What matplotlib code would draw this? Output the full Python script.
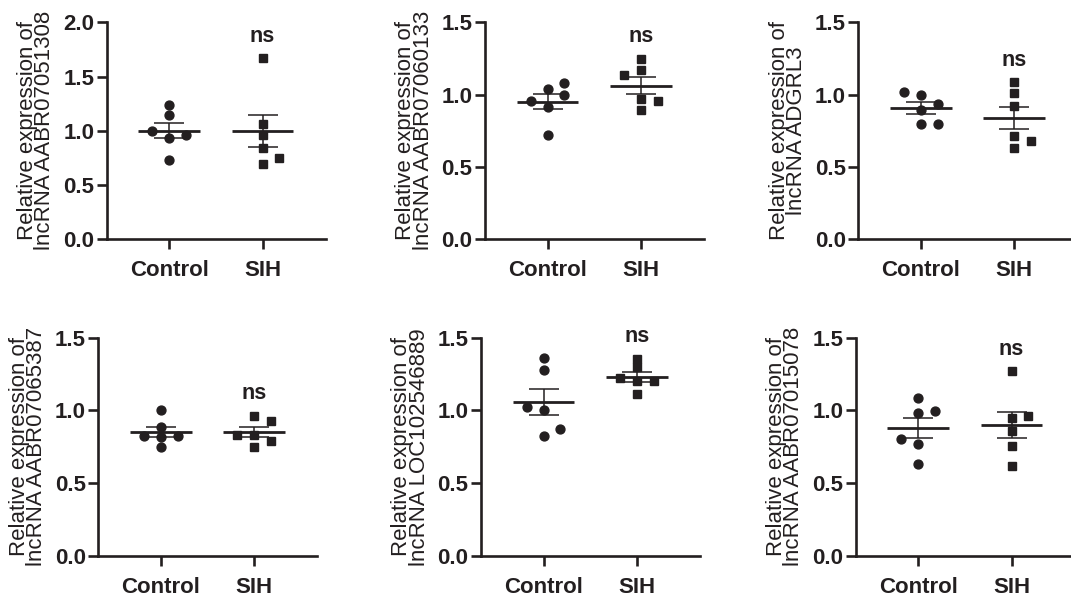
import numpy as np
import matplotlib
matplotlib.use('Agg')
import matplotlib.pyplot as plt
from matplotlib.ticker import FormatStrFormatter

# Values (n = 6 per group)
groups = ['Control', 'SIH']
genes = ['lncRNA AABR07051308', 'lncRNA AABR07060133', 'lncRNA ADGRL3',
         'lncRNA AABR07065387', 'lncRNA LOC102546889', 'lncRNA AABR07015078']
y_tops = [2.0, 1.5, 1.5, 1.5, 1.5, 1.5]

control_051308 = [0.937, 0.964, 0.998, 1.235, 1.145, 0.731]
sih_051308 = [1.668, 1.066, 0.959, 0.844, 0.691, 0.752]
control_060133 = [1.041, 0.912, 0.720, 1.083, 0.958, 0.998]
sih_060133 = [1.248, 1.170, 0.970, 0.895, 0.954, 1.135]
control_adgrl3 = [0.895, 0.935, 0.999, 1.018, 0.796, 0.796]
sih_adgrl3 = [1.085, 1.008, 0.923, 0.713, 0.679, 0.630]
control_065387 = [1.002, 0.884, 0.815, 0.749, 0.826, 0.826]
sih_065387 = [0.964, 0.929, 0.833, 0.829, 0.788, 0.747]
control_loc = [1.358, 1.276, 1.000, 0.824, 0.870, 1.025]
sih_loc = [1.355, 1.295, 1.198, 1.113, 1.198, 1.221]
control_015078 = [1.085, 0.981, 0.634, 0.768, 0.995, 0.802]
sih_015078 = [1.268, 0.947, 0.861, 0.754, 0.616, 0.958]
annot = ['ns'] * 6

panels = [(control_051308, sih_051308), (control_060133, sih_060133),
          (control_adgrl3, sih_adgrl3), (control_065387, sih_065387),
          (control_loc, sih_loc), (control_015078, sih_015078)]

INK = '#231f20'
W, H = 1071, 596
# axes boxes in pixels: left x, top y (figure measured from top)
lefts = [106.7, 485, 858.3, 98.3, 481, 855.7]
tops = [22.3, 22.3, 22.3, 337.5, 337.5, 337.5]
bottoms = [239.3, 239.3, 239.3, 556, 556, 556]
AX_W = 219

fig = plt.figure(figsize=(W / 100, H / 100), dpi=100)


def swarm_offsets(ax, values, min_px=7.5, step=0.18):
    # simple dot-plot spreading: centre if free, else alternate sides
    ypx = ax.transData.transform(np.column_stack([np.zeros(len(values)), values]))[:, 1]
    placed = []
    slots = []
    moved = 0
    for y in ypx:
        def free(s):
            return all(abs(y - yy) >= min_px for ss, yy in placed if ss == s)
        if free(0):
            s = 0
        else:
            sides = [1, -1] if moved % 2 == 0 else [-1, 1]
            s = next(c for c in sides + [2, -2, 3, -3] if free(c))
            moved += 1
        placed.append((s, y))
        slots.append(s)
    return np.array(slots) * step


for i, ((ctrl, sih), gene, ytop) in enumerate(zip(panels, genes, y_tops)):
    ax = fig.add_axes([lefts[i] / W, 1 - bottoms[i] / H, AX_W / W,
                       (bottoms[i] - tops[i]) / H])
    ax.set_xlim(-0.67, 1.677)
    ax.set_ylim(0, ytop)

    for x, vals, marker, ms in [(0, ctrl, 'o', 6.4), (1, sih, 's', 6.0)]:
        vals = np.asarray(vals)
        mean = vals.mean()
        sem = vals.std(ddof=1) / np.sqrt(len(vals))
        ax.errorbar(x, mean, yerr=sem, fmt='none', ecolor=INK, elinewidth=1.1,
                    capsize=11, capthick=1.1, zorder=2)
        ax.hlines(mean, x - 0.33, x + 0.33, color=INK, lw=2.0, zorder=2)
        offs = swarm_offsets(ax, vals)
        ax.plot(x + offs, vals, linestyle='none', marker=marker, ms=ms,
                color=INK, mec=INK, zorder=3, clip_on=False)

    ax.annotate(annot[i], xy=(1, max(sih)), xytext=(0, 16), textcoords='offset points',
                ha='center', va='center', fontsize=15.5, fontweight='bold',
                family='Liberation Sans', color=INK)

    ax.set_xticks([0, 1])
    ax.set_xticklabels(groups)
    ax.set_yticks(np.arange(0, ytop + 0.01, 0.5))
    ax.yaxis.set_major_formatter(FormatStrFormatter('%.1f'))
    for lab in ax.get_xticklabels() + ax.get_yticklabels():
        lab.set_fontfamily('Liberation Sans')
        lab.set_fontweight('bold')
        lab.set_fontsize(16)
        lab.set_color(INK)
    ax.tick_params(axis='both', width=1.9, length=7, color=INK)
    ax.tick_params(axis='y', pad=2)
    ax.tick_params(axis='x', pad=8)

    for side in ['top', 'right']:
        ax.spines[side].set_visible(False)
    for side in ['left', 'bottom']:
        ax.spines[side].set_linewidth(1.9)
        ax.spines[side].set_color(INK)

    ax.set_ylabel('Relative expression of\n' + gene, fontsize=16,
                  family='Liberation Sans', color=INK, linespacing=0.76)
    ax.yaxis.set_label_coords(-0.235, 0.5)

fig.savefig('out.png', dpi=100, facecolor='white')
